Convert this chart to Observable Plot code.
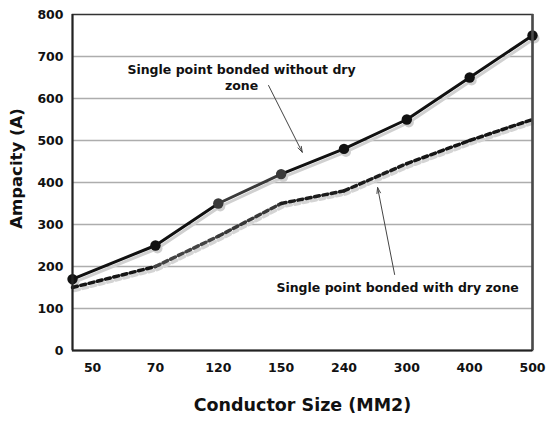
<!DOCTYPE html>
<html><head><meta charset="utf-8">
<script src="https://cdn.jsdelivr.net/npm/d3@7"></script>
<script src="https://cdn.jsdelivr.net/npm/@observablehq/plot@0.6"></script>
<style>body{margin:0;background:#fff} svg{display:block}</style>
</head><body><div id="chart"></div>
<script>
// Data
const sizes = ["50", "70", "120", "150", "240", "300", "400", "500"];
const withoutDry = [170, 250, 350, 420, 480, 550, 650, 750];
const withDry = [150, 200, 272, 350, 380, 445, 500, 550];
const yTicks = [0, 100, 200, 300, 400, 500, 600, 700, 800];
const withoutDryPointColors = ["#111", "#111", "#3a3a3a", "#3a3a3a", "#111", "#111", "#111", "#111"];
const withoutDrySegColors = ["#111", "#111", "#3a3a3a", "#111", "#111", "#111", "#111"];
const withDrySegColors = ["#151515", "#444", "#383838", "#1c1c1c", "#1c1c1c", "#151515", "#151515"];
const xDomain = [-0.32, 7];
const notes = [
  {text: "Single point bonded without dry\nzone", i: 2.37, v: 652},
  {text: "Single point bonded with dry zone", i: 4.853, v: 152}
];
const arrows = [
  {i1: 2.80, v1: 631, i2: 3.336, v2: 472},
  {i1: 4.806, v1: 181, i2: 4.535, v2: 388}
];

// the first category's point sits on the left edge of the frame, as in the source chart
const xOf = i => (i === 0 ? xDomain[0] : i);
function segs(values, colors) {
  const out = [];
  for (let k = 0; k < values.length - 1; k++) {
    out.push({x: xOf(k), y: values[k], seg: k, c: colors[k]});
    out.push({x: xOf(k + 1), y: values[k + 1], seg: k, c: colors[k]});
  }
  return out;
}
const solidSegs = segs(withoutDry, withoutDrySegColors);
const dashSegs = segs(withDry, withDrySegColors);
const solidPts = withoutDry.map((v, k) => ({x: xOf(k), y: v, c: withoutDryPointColors[k]}));
const solidLine = withoutDry.map((v, k) => ({x: xOf(k), y: v}));
const dashLine = withDry.map((v, k) => ({x: xOf(k), y: v}));

const font = "'DejaVu Sans', Verdana, sans-serif";

const chart = Plot.plot({
  width: 546,
  height: 425,
  marginLeft: 72,
  marginRight: 14,
  marginTop: 14,
  marginBottom: 75,
  style: {fontFamily: font, background: "#fff"},
  x: {type: "linear", domain: xDomain},
  y: {domain: [0, 800]},
  color: {type: "identity"},
  marks: [
    Plot.gridY(yTicks.filter(t => t > 0 && t < 800), {stroke: "#adadad", strokeOpacity: 1, strokeWidth: 1.3}),
    // shadows
    Plot.line(dashLine, {x: "x", y: "y", stroke: "#d4d4d4", strokeWidth: 3.5, strokeDasharray: "5,3.5", dx: 2, dy: 3}),
    Plot.line(solidLine, {x: "x", y: "y", stroke: "#d0d0d0", strokeWidth: 3, dx: 2, dy: 3}),
    Plot.dot(solidPts, {x: "x", y: "y", r: 5, fill: "#cfcfcf", dx: 2, dy: 3}),
    // series
    Plot.line(dashSegs, {x: "x", y: "y", z: "seg", stroke: "c", strokeWidth: 3.5, strokeDasharray: "5,3.5"}),
    Plot.line(solidSegs, {x: "x", y: "y", z: "seg", stroke: "c", strokeWidth: 3}),
    Plot.dot(solidPts, {x: "x", y: "y", r: 5.2, fill: "c"}),
    // frame
    Plot.frame({stroke: "#333", strokeWidth: 1.5}),
    Plot.ruleX([xDomain[1]], {stroke: "#4a4a4a", strokeWidth: 2.5}),
    Plot.ruleX([xDomain[0]], {stroke: "#222", strokeWidth: 2}),
    Plot.ruleY([0], {stroke: "#222", strokeWidth: 2}),
    // axes
    Plot.axisY({ticks: yTicks, tickSize: 0, tickPadding: 9, label: null, fontSize: 12.5, fontWeight: "bold", fill: "#111"}),
    Plot.axisX({ticks: sizes.map((s, i) => i), tickFormat: i => sizes[i], tickSize: 0, tickPadding: 13, label: null, fontSize: 12.5, fontWeight: "bold", fill: "#111"}),
    Plot.text(["Ampacity (A)"], {frameAnchor: "left", dx: -56, dy: -14, rotate: -90, fontSize: 16.5, fontWeight: "bold", fill: "#111", textAnchor: "middle"}),
    Plot.text(["Conductor Size (MM2)"], {frameAnchor: "bottom", dy: 60, fontSize: 17.5, fontWeight: "bold", fill: "#111"}),
    // annotations
    Plot.arrow(arrows, {x1: "i1", y1: "v1", x2: "i2", y2: "v2", stroke: "#444", strokeWidth: 1, headLength: 9, headAngle: 35}),
    Plot.text(notes, {x: "i", y: "v", text: "text", fontSize: 12.5, fontWeight: "bold", fill: "#111", lineHeight: 1.35})
  ]
});
document.getElementById("chart").appendChild(chart);
</script>
</body></html>
